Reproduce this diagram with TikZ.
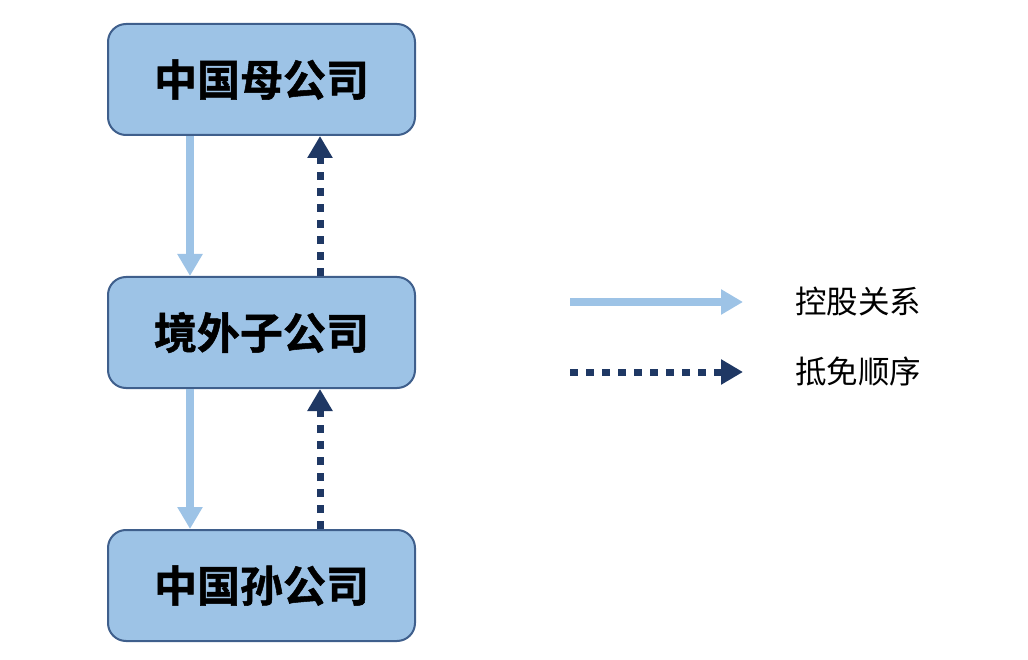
\documentclass[tikz,border=0pt]{standalone}
\usepackage{fontspec}
\newfontfamily\cjkb[FakeBold=1.2]{Noto Sans CJK SC Bold}
\newfontfamily\cjk{Noto Sans CJK SC}
\usetikzlibrary{arrows.meta}
\definecolor{boxfill}{HTML}{9DC3E6}
\definecolor{boxedge}{HTML}{3F5F8C}
\definecolor{lightarr}{HTML}{9DC3E6}
\definecolor{darkarr}{HTML}{1F3864}
\tikzset{
  company/.style={draw=boxedge, line width=2pt, fill=boxfill, rounded corners=18pt,
    minimum width=307pt, minimum height=111pt, inner sep=0pt,
    font=\cjkb\fontsize{43}{43}\selectfont, text=black},
  holding/.style={draw=lightarr, line width=8pt, -{Triangle[width=24pt,length=22pt]}},
  credit/.style={draw=darkarr, line width=7pt, dash pattern=on 8pt off 8pt,
    -{Triangle[width=24pt,length=22pt]}},
  legendtext/.style={font=\cjk\fontsize{31.5}{31.5}\selectfont, text=black, anchor=west, inner sep=0pt}
}
\begin{document}
\begin{tikzpicture}[x=1pt,y=-1pt]
\useasboundingbox (0,0) rectangle (1028,660);
\node[company] (p) at (261.5,79.5) {中国母公司};
\node[company] (s) at (261.5,332.5) {境外子公司};
\node[company] (g) at (261.5,585.5) {中国孙公司};
\draw[holding] (190,136) -- (190,276);
\draw[holding] (190,389) -- (190,529);
\draw[credit] (320,276) -- (320,136);
\draw[credit] (320,529) -- (320,389);
\coordinate (l1a) at (570,302);
\coordinate (l1b) at (743,302);
\coordinate (l2a) at (570,372);
\coordinate (l2b) at (743,372);
\draw[holding] (l1a) -- (l1b);
\draw[credit] (l2a) -- (l2b);
\node[legendtext] (t1) at (795,302) {控股关系};
\node[legendtext] (t2) at (795,372) {抵免顺序};
\end{tikzpicture}
\end{document}
